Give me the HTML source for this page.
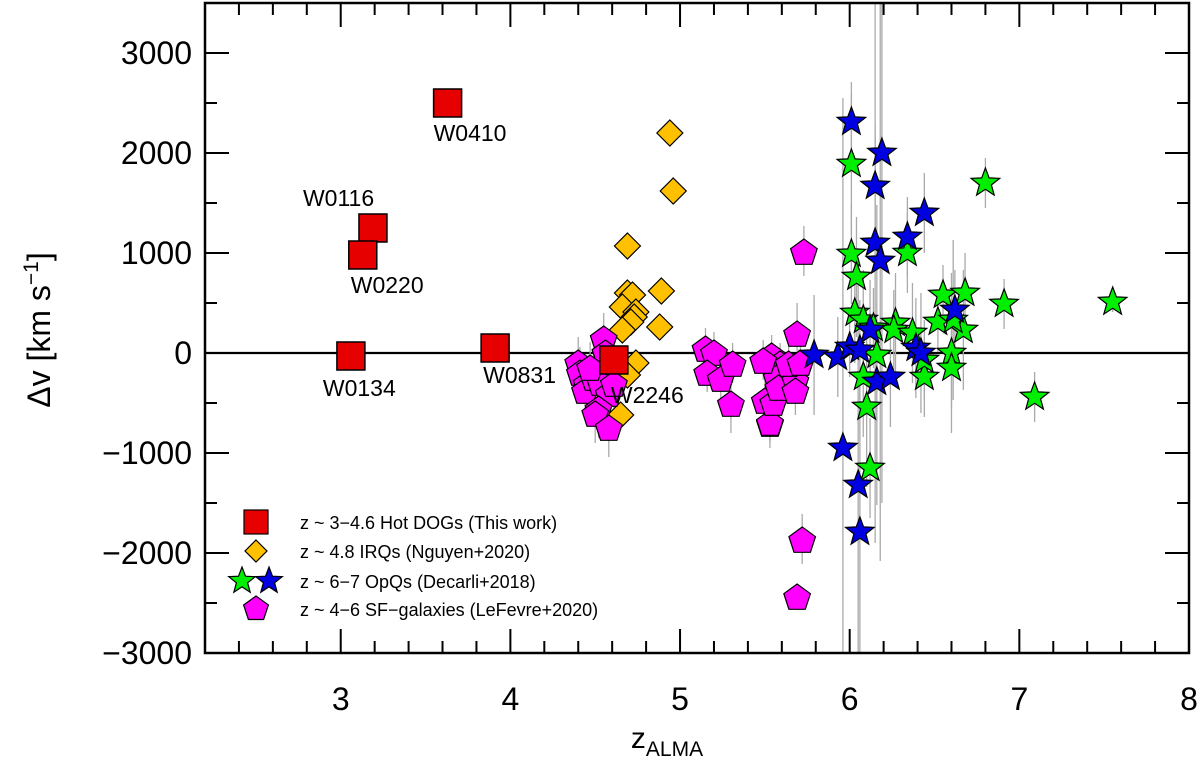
<!DOCTYPE html>
<html><head><meta charset="utf-8"><style>
body{margin:0;background:#fff}
svg{display:block;font-family:"Liberation Sans",sans-serif}
</style></head><body>
<svg id="chart" width="1200" height="765" viewBox="0 0 1200 765" xmlns="http://www.w3.org/2000/svg">
<g id="err"></g>
<g id="marks"></g>
<g id="axes"></g>
<g id="legend"></g>
</svg>
<script>
const hotZ=[3.63,3.19,3.13,3.06,3.91,4.61];
const hotV=[2500,1250,980,-30,50,-70];
const hotNames=["W0410","W0116","W0220","W0134","W0831","W2246"];
const irqZ=[4.94,4.96,4.69,4.69,4.72,4.89,4.66,4.74,4.73,4.71,4.66,4.88,4.74,4.69,4.65];
const irqV=[2200,1620,1070,600,580,620,460,410,360,310,230,260,-100,-220,-620];
const sfZ=[5.73,5.69,5.53,5.72,5.69,5.15,5.2,5.16,5.24,5.31,5.30,5.53,5.5,5.55,5.54,5.59,5.57,5.58,5.68,5.68,5.64,5.71,5.49,4.40,4.41,4.45,4.44,4.55,4.56,4.49,4.53,4.58,4.52,4.50,4.58,4.47,4.61];
const sfV=[1020,200,-700,-1860,-2430,50,10,-190,-250,-100,-500,-690,-470,-490,-20,-100,-240,-340,-270,-370,-100,-90,-70,-90,-190,-300,-370,150,10,-240,-290,-400,-550,-600,-740,-140,-300];
const sfErr=[250,300,250,250,0,200,200,200,200,200,300,200,200,200,200,200,250,200,200,250,200,200,200,250,250,250,300,250,250,250,300,250,300,300,300,250,250];
const gZ=[6.01,6.80,6.01,6.34,6.04,6.55,6.68,6.91,7.55,6.03,6.08,6.27,6.52,6.67,6.26,6.14,6.37,6.61,6.16,6.6,6.6,6.44,6.08,6.10,6.12,7.09,6.44];
const gV=[1890,1700,990,1000,760,580,600,490,510,400,330,300,310,230,230,250,200,330,-20,0,-150,-240,-240,-540,-1150,-440,-70];
const gErr=[700,250,500,400,600,300,400,250,100,500,500,500,300,600,400,400,500,800,1500,800,400,400,600,800,500,250,400];
const bZ=[6.01,6.19,6.15,6.44,6.34,6.15,6.18,6.62,5.79,5.93,6.0,6.12,6.06,6.39,6.16,6.24,5.96,6.05,6.06,6.42];
const bV=[2310,2000,1670,1400,1160,1100,920,430,-20,-40,60,230,30,50,-290,-240,-950,-1320,-1790,0];
const bErr=[400,3500,600,400,400,3000,3000,400,600,400,300,500,500,500,400,500,3500,2000,1500,600];
const xTicks=[3,4,5,6,7,8];
const yTicks=[-3000,-2000,-1000,0,1000,2000,3000];

const X0=205,X1=1189,Y0=3,Y1=653,ZMIN=2.2,ZMAX=8.0,VMIN=-3000,VMAX=3500;
const xs=z=>X0+(z-ZMIN)/(ZMAX-ZMIN)*(X1-X0);
const ys=v=>Y1-(v-VMIN)/(VMAX-VMIN)*(Y1-Y0);
const NS="http://www.w3.org/2000/svg";
function mk(tag,attrs,parent){const e=document.createElementNS(NS,tag);for(const k in attrs)e.setAttribute(k,attrs[k]);parent.appendChild(e);return e;}
const gE=document.getElementById('err'),gM=document.getElementById('marks'),gA=document.getElementById('axes'),gL=document.getElementById('legend');
const clampY=v=>Math.max(Y0,Math.min(Y1,v));
function errbar(z,v,e){if(!e)return;const l=mk('line',{x1:xs(z),x2:xs(z),y1:clampY(ys(v+e)),y2:clampY(ys(v-e)),stroke:'#aaa','stroke-width':1.3},gE);

}
function starPts(cx,cy,R){const r=R*0.42;let p=[];for(let i=0;i<10;i++){const a=-Math.PI/2+i*Math.PI/5;const rr=i%2?r:R;p.push((cx+rr*Math.cos(a)).toFixed(1)+','+(cy+rr*Math.sin(a)).toFixed(1));}return p.join(' ');}
function pentPts(cx,cy,R){let p=[];for(let i=0;i<5;i++){const a=-Math.PI/2+i*2*Math.PI/5;p.push((cx+R*Math.cos(a)).toFixed(1)+','+(cy+R*Math.sin(a)+2).toFixed(1));}return p.join(' ');}
function diaPts(cx,cy,R){return `${cx},${cy-R} ${cx+R},${cy} ${cx},${cy+R} ${cx-R},${cy}`;}

const zl=mk('line',{x1:X0,x2:X1,y1:ys(0),y2:ys(0),stroke:'#000','stroke-width':2.2},gE);



sfZ.forEach((z,i)=>errbar(z,sfV[i],sfErr[i]));
gZ.forEach((z,i)=>errbar(z,gV[i],gErr[i]));
bZ.forEach((z,i)=>errbar(z,bV[i],bErr[i]));

irqZ.forEach((z,i)=>{const p=mk('polygon',{points:diaPts(xs(z),ys(irqV[i]),13),fill:'#ffc000',stroke:'#000','stroke-width':1.2},gM);

});
sfZ.forEach((z,i)=>{const p=mk('polygon',{points:pentPts(xs(z),ys(sfV[i]),14),fill:'#ff00ff',stroke:'#000','stroke-width':1.2},gM);

});
gZ.forEach((z,i)=>{const p=mk('polygon',{points:starPts(xs(z),ys(gV[i]),15),fill:'#00ee00',stroke:'#000','stroke-width':1.2},gM);

});
bZ.forEach((z,i)=>{const p=mk('polygon',{points:starPts(xs(z),ys(bV[i]),15),fill:'#0000e0',stroke:'#000','stroke-width':1.2},gM);

});
const labOff=[[-14,38],[-70,-22],[-12,38],[-28,40],[-12,35],[-3,43]];
hotZ.forEach((z,i)=>{const cx=xs(z),cy=ys(hotV[i]);const r=mk('rect',{x:cx-14,y:cy-14,width:28,height:28,fill:'#e60000',stroke:'#000','stroke-width':1.5},gM);


const t=mk('text',{x:cx+labOff[i][0],y:cy+labOff[i][1],'font-size':23,fill:'#000'},gM);t.textContent=hotNames[i];

});

const fr=mk('rect',{x:X0,y:Y0,width:X1-X0,height:Y1-Y0,fill:'none',stroke:'#000','stroke-width':2.5},gA);


for(let z=2.4;z<=8.001;z+=0.2){const maj=Math.abs(z-Math.round(z))<0.01;const L=maj?24:12;const x=xs(z);
mk('line',{x1:x,x2:x,y1:Y1,y2:Y1-L,stroke:'#000','stroke-width':2},gA);mk('line',{x1:x,x2:x,y1:Y0,y2:Y0+L,stroke:'#000','stroke-width':2},gA);}
for(let v=-3000;v<=3500;v+=500){const maj=v%1000===0;const L=maj?24:12;const y=ys(v);
mk('line',{x1:X0,x2:X0+L,y1:y,y2:y,stroke:'#000','stroke-width':2},gA);mk('line',{x1:X1,x2:X1-L,y1:y,y2:y,stroke:'#000','stroke-width':2},gA);}
xTicks.forEach(z=>{const t=mk('text',{x:xs(z),y:710,'font-size':32,'text-anchor':'middle'},gA);t.textContent=z;

});
yTicks.forEach(v=>{const t=mk('text',{x:192,y:ys(v)+11,'font-size':32,'text-anchor':'end'},gA);t.textContent=(v<0?'\u2212'+(-v):v);

});
const xt=mk('text',{x:667,y:748,'font-size':30,'text-anchor':'middle'},gA);
xt.innerHTML='z<tspan font-size="21" dy="8">ALMA</tspan>';


const yt=mk('text',{transform:'translate(50,330) rotate(-90)','font-size':32,'text-anchor':'middle'},gA);
yt.innerHTML='Δv  [km s<tspan font-size="21" dy="-12">−1</tspan><tspan dy="12">]</tspan>';



const lg=[['sq','z ~ 3−4.6 Hot DOGs (This work)',522],['di','z ~ 4.8 IRQs (Nguyen+2020)',551],['st','z ~ 6−7 OpQs (Decarli+2018)',581],['pe','z ~ 4−6 SF−galaxies (LeFevre+2020)',609]];
lg.forEach(([k,txt,y])=>{
 if(k==='sq')mk('rect',{x:244,y:y-12,width:24,height:24,fill:'#e60000',stroke:'#000','stroke-width':1.2},gL);
 if(k==='di')mk('polygon',{points:diaPts(256,y,11),fill:'#ffc000',stroke:'#000','stroke-width':1.2},gL);
 if(k==='st'){mk('polygon',{points:starPts(242,y,14),fill:'#00ee00',stroke:'#000','stroke-width':1.2},gL);mk('polygon',{points:starPts(269,y,14),fill:'#0000e0',stroke:'#000','stroke-width':1.2},gL);}
 if(k==='pe')mk('polygon',{points:pentPts(256,y-2,13),fill:'#ff00ff',stroke:'#000','stroke-width':1.2},gL);
 const t=mk('text',{x:300,y:y+7,'font-size':18},gL);t.textContent=txt;
 
 
});
</script>
</body></html>
